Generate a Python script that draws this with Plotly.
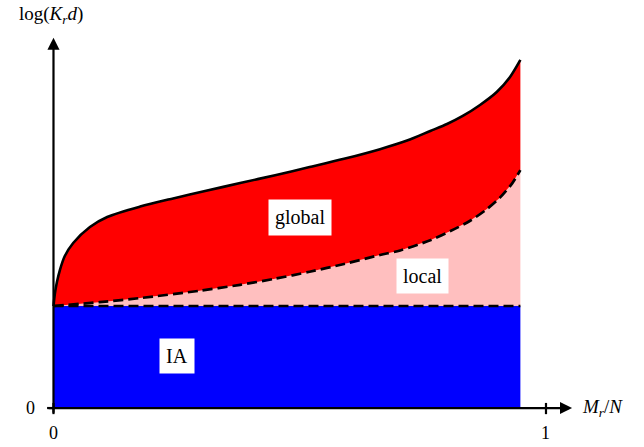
import plotly.graph_objects as go

# ---- data ----
ia_level = 1.0
x_end = 0.948

global_x = [0.000, 0.003, 0.007, 0.013, 0.023, 0.040, 0.074, 0.109, 0.176, 0.243,
            0.310, 0.379, 0.450, 0.520, 0.590, 0.663, 0.718, 0.765, 0.799, 0.831,
            0.866, 0.900, 0.927, 0.948]
global_y = [1.000, 1.127, 1.235, 1.353, 1.490, 1.618, 1.775, 1.873, 1.975, 2.055,
            2.130, 2.205, 2.283, 2.362, 2.443, 2.538, 2.622, 2.716, 2.784, 2.863,
            2.971, 3.098, 3.245, 3.412]

local_x = [0.000, 0.094, 0.176, 0.297, 0.379, 0.450, 0.520, 0.590, 0.663, 0.704,
           0.765, 0.805, 0.846, 0.880, 0.906, 0.931, 0.948]
local_y = [1.000, 1.038, 1.078, 1.150, 1.208, 1.268, 1.336, 1.412, 1.500, 1.545,
           1.645, 1.733, 1.836, 1.950, 2.060, 2.200, 2.333]

x_ticks = [0, 1]
x_tick_labels = ["0", "1"]
y_ticks = [0]
y_tick_labels = ["0"]

region_labels = ["global", "local", "IA"]
region_label_x = [0.501, 0.750, 0.251]
region_label_y = [1.863, 1.294, 0.510]

FONT = "Liberation Serif"

fig = go.Figure()

# IA region (blue)
fig.add_trace(go.Scatter(
    x=[0, x_end, x_end, 0], y=[0, 0, ia_level, ia_level],
    fill="toself", fillcolor="#0000ff", mode="none", hoverinfo="skip"))

# local region (pink): between IA line and local curve
fig.add_trace(go.Scatter(
    x=local_x + local_x[::-1], y=local_y + [ia_level] * len(local_x),
    fill="toself", fillcolor="#ffbfbf", mode="none", hoverinfo="skip"))

# global region (red): between local curve and global curve
fig.add_trace(go.Scatter(
    x=global_x + local_x[::-1], y=global_y + local_y[::-1],
    fill="toself", fillcolor="#ff0000", mode="none", hoverinfo="skip"))

# boundary lines
fig.add_trace(go.Scatter(x=global_x, y=global_y, mode="lines",
                         line=dict(color="black", width=2.6, shape="spline", smoothing=0.8),
                         hoverinfo="skip"))
fig.add_trace(go.Scatter(x=local_x, y=local_y, mode="lines",
                         line=dict(color="black", width=2.7, dash="10px,5px",
                                   shape="spline", smoothing=0.8),
                         hoverinfo="skip"))
fig.add_trace(go.Scatter(x=[0, x_end], y=[ia_level, ia_level], mode="lines",
                         line=dict(color="black", width=2.7, dash="10px,5px"),
                         hoverinfo="skip"))

# axes with arrows
fig.add_annotation(x=1.053, y=0, ax=-0.013, ay=0, xref="x", yref="y", axref="x", ayref="y",
                   showarrow=True, arrowhead=2, arrowsize=1.1, arrowwidth=2.2,
                   arrowcolor="black", text="")
fig.add_annotation(x=0, y=3.63, ax=0, ay=-0.06, xref="x", yref="y", axref="x", ayref="y",
                   showarrow=True, arrowhead=2, arrowsize=1.1, arrowwidth=2.2,
                   arrowcolor="black", text="")

# ticks
for xt, lab in zip(x_ticks, x_tick_labels):
    fig.add_shape(type="line", x0=xt, x1=xt, y0=-0.06, y1=0.05,
                  line=dict(color="black", width=2.2))
    fig.add_annotation(x=xt, y=0, yshift=-25, text=lab, showarrow=False,
                       font=dict(family=FONT, size=18, color="black"))
for yt, lab in zip(y_ticks, y_tick_labels):
    fig.add_shape(type="line", x0=-0.013, x1=0, y0=yt, y1=yt,
                  line=dict(color="black", width=2.2))
    fig.add_annotation(x=0, y=yt, xshift=-23, text=lab, showarrow=False,
                       font=dict(family=FONT, size=18, color="black"))

# axis titles
fig.add_annotation(x=1.07, y=0, xanchor="left", text="<i>M</i><sub><i>r</i></sub>/<i>N</i>",
                   showarrow=False, font=dict(family=FONT, size=19, color="black"))
fig.add_annotation(x=-0.005, y=3.85, text="log(<i>K</i><sub><i>r</i></sub><i>d</i>)",
                   showarrow=False, font=dict(family=FONT, size=19, color="black"))

# region labels
for t, lx, ly in zip(region_labels, region_label_x, region_label_y):
    fig.add_annotation(x=lx, y=ly, text=t, showarrow=False, bgcolor="white",
                       borderpad=6, font=dict(family=FONT, size=20, color="black"))

fig.update_layout(
    width=644, height=447,
    margin=dict(l=0, r=0, t=0, b=0),
    paper_bgcolor="white", plot_bgcolor="white",
    showlegend=False,
    xaxis=dict(range=[-0.1086, 1.1990], visible=False, fixedrange=True),
    yaxis=dict(range=[-0.382, 4.0], visible=False, fixedrange=True),
)

fig.write_html("out.html", config={"displayModeBar": False},
               post_script="document.body.style.margin='0px';document.body.style.overflow='hidden';")
